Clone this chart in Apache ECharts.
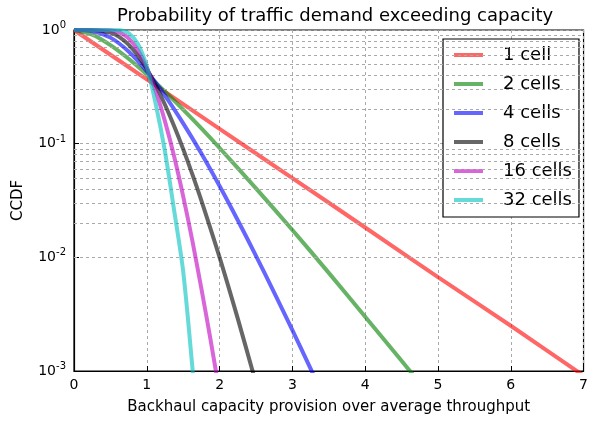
<!DOCTYPE html>
<html>
<head>
<meta charset="utf-8">
<script src="https://cdn.jsdelivr.net/npm/echarts@6/dist/echarts.min.js"></script>
<style>html,body{margin:0;padding:0;background:#fff}#c{width:591px;height:422px}</style>
</head>
<body>
<div id="c"></div>
<script>
const titleText = 'Probability of traffic demand exceeding capacity';
const xLabel = 'Backhaul capacity provision over average throughput';
const yLabel = 'CCDF';
const seriesNames = ['1 cell', '2 cells', '4 cells', '8 cells', '16 cells', '32 cells'];
const seriesColors = ['rgba(255,0,0,0.6)', 'rgba(0,128,0,0.6)', 'rgba(0,0,255,0.6)', 'rgba(0,0,0,0.6)', 'rgba(191,0,191,0.6)', 'rgba(0,191,191,0.6)'];
const xTicks = [0, 1, 2, 3, 4, 5, 6, 7];
const yTicks = [0.001, 0.01, 0.1, 1];
const minorGrid = [0.002,0.003,0.004,0.005,0.006,0.007,0.008,0.009,
                   0.02,0.03,0.04,0.05,0.06,0.07,0.08,0.09,
                   0.2,0.3,0.4,0.5,0.6,0.7,0.8,0.9];

const cell1 = [[0,1],[1,0.368],[2,0.135],[3,0.0498],[4,0.0183],[5,0.0067],[6,0.0025],[7,0.00091]];
const cell2 = [[0,1],[0.25,0.91],[0.5,0.736],[0.75,0.558],[1,0.406],[1.25,0.287],[1.5,0.199],[1.75,0.136],[2,0.0916],[2.5,0.0404],[3,0.0174],[3.5,0.0073],[4,0.0030],[4.5,0.00123],[4.7,0.00086]];
const cell4 = [[0,1],[0.25,0.981],[0.5,0.857],[0.75,0.647],[1,0.433],[1.25,0.265],[1.5,0.151],[1.75,0.082],[2,0.0424],[2.25,0.0212],[2.5,0.0103],[2.75,0.0049],[3,0.00229],[3.25,0.00105],[3.35,0.00076]];
const cell8 = [[0,1],[0.25,0.999],[0.5,0.949],[0.625,0.867],[0.75,0.744],[0.875,0.599],[1,0.453],[1.125,0.324],[1.25,0.220],[1.375,0.143],[1.5,0.0895],[1.625,0.054],[1.75,0.0316],[2,0.0100],[2.25,0.00289],[2.5,0.00078]];
const cell16 = [[0,1],[0.25,1],[0.5,0.992],[0.625,0.951],[0.75,0.844],[0.875,0.669],[1,0.467],[1.125,0.287],[1.25,0.157],[1.375,0.0774],[1.5,0.0344],[1.625,0.0141],[1.75,0.0053],[1.875,0.0019],[2,0.00064]];
const cell32 = [[0,1],[0.5,0.9998],[0.625,0.995],[0.75,0.94],[0.875,0.76],[1,0.476],[1.125,0.22],[1.25,0.085],[1.375,0.026],[1.5,0.0075],[1.625,0.0011],[1.65,0.0007]];
const allData = [cell1, cell2, cell4, cell8, cell16, cell32];

const chart = echarts.init(document.getElementById('c'), null, {renderer: 'canvas'});
const font = 'DejaVu Sans';
const series = allData.map((d, i) => ({
  name: seriesNames[i],
  type: 'line',
  data: d,
  smooth: 0.3,
  showSymbol: false,
  symbol: 'none',
  color: seriesColors[i],
  lineStyle: {width: 4, color: seriesColors[i]},
  z: 3 + i
}));
series.unshift({
  name: 'grid',
  type: 'line',
  data: [],
  silent: true,
  z: 1,
  markLine: {
    silent: true,
    symbol: 'none',
    label: {show: false},
    animation: false,
    lineStyle: {type: [3, 3], color: '#aaa', width: 1},
    data: minorGrid.map(v => ({yAxis: v}))
  }
});

chart.setOption({
  animation: false,
  backgroundColor: '#fff',
  title: {
    text: titleText, left: 330, top: 2, textAlign: 'center',
    textStyle: {fontFamily: font, fontSize: 18, fontWeight: 'normal', color: '#000'}
  },
  grid: {left: 74, right: 6, top: 30, bottom: 51, show: true, borderColor: '#000', borderWidth: 1.2, backgroundColor: 'transparent'},
  legend: {
    data: seriesNames,
    orient: 'vertical',
    left: 443, top: 39,
    backgroundColor: '#fff',
    borderColor: '#000', borderWidth: 1.2, borderRadius: 0,
    padding: [7, 7, 8, 11],
    itemGap: 11,
    itemWidth: 29, itemHeight: 4,
    icon: 'rect',
    textStyle: {fontFamily: font, fontSize: 18, color: '#000', padding: [0, 0, 0, 15]}
  },
  xAxis: {
    type: 'value', min: 0, max: 7, interval: 1,
    name: xLabel, nameLocation: 'middle', nameGap: 29,
    nameTextStyle: {fontFamily: font, fontSize: 15, color: '#000'},
    axisLine: {show: true, onZero: false, lineStyle: {color: '#000', width: 1.2}},
    axisTick: {show: true, inside: true, length: 5, lineStyle: {color: '#000'}},
    axisLabel: {fontFamily: font, fontSize: 14, color: '#000', margin: 7},
    splitLine: {show: true, lineStyle: {type: [3, 3], color: '#aaa'}}
  },
  yAxis: {
    type: 'log', logBase: 10, min: 0.001, max: 1,
    name: yLabel, nameLocation: 'middle', nameGap: 48,
    nameTextStyle: {fontFamily: font, fontSize: 15, color: '#000'},
    axisLine: {show: true, lineStyle: {color: '#000', width: 1.2}},
    axisTick: {show: true, inside: true, length: 5, lineStyle: {color: '#000'}},
    axisLabel: {
      fontFamily: font, fontSize: 14, color: '#000', margin: 8,
      formatter: v => '{b|10}{s|' + Math.round(Math.log10(v)) + '}',
      rich: {
        b: {fontFamily: font, fontSize: 14, color: '#000'},
        s: {fontFamily: font, fontSize: 10, color: '#000', padding: [0, 0, 9, 0]}
      }
    },
    splitLine: {show: true, lineStyle: {type: [3, 3], color: '#aaa'}}
  },
  series: series
});
</script>
</body>
</html>
